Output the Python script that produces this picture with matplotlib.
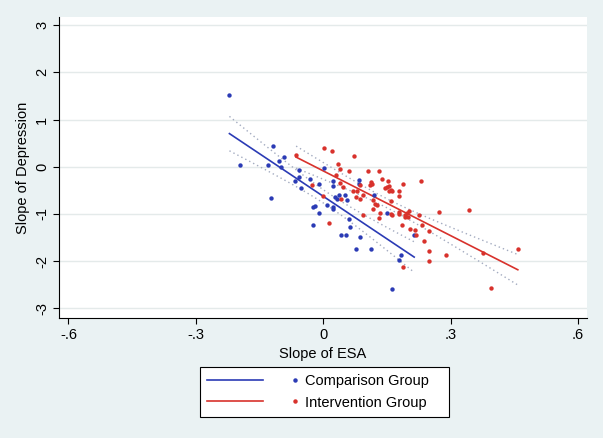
import numpy as np
import matplotlib
matplotlib.use('Agg')
import matplotlib.pyplot as plt
from matplotlib.legend_handler import HandlerTuple
from matplotlib.lines import Line2D

plt.rcParams['font.family'] = ['Liberation Sans', 'DejaVu Sans']
plt.rcParams['axes.unicode_minus'] = False

# comparison group (slope of ESA, slope of depression)
comp_x = [-0.221, -0.196, -0.118, -0.124, -0.105, -0.093, -0.130, -0.099, -0.058, -0.067,
          -0.058, -0.052, -0.031, -0.009, 0.002, -0.024, -0.019, -0.009, -0.025, 0.009,
          0.022, 0.024, 0.022, 0.024, 0.027, 0.032, 0.036, 0.052, 0.055, 0.060,
          0.063, 0.041, 0.053, 0.086, 0.077, 0.113, 0.083, 0.085, 0.119, 0.149,
          0.214, 0.182, 0.178, 0.162]
comp_y = [1.525, 0.030, 0.445, -0.657, 0.127, 0.199, 0.030, -0.013, -0.070, -0.297,
          -0.212, -0.451, -0.267, -0.367, -0.028, -0.860, -0.833, -0.987, -1.235, -0.818,
          -0.903, -0.860, -0.309, -0.409, -0.636, -0.678, -0.593, -0.593, -0.706, -1.114,
          -1.284, -1.441, -1.441, -1.496, -1.750, -1.750, -0.282, -0.367, -0.606, -0.987,
          -1.453, -1.864, -1.977, -2.597]

# intervention group
int_x = [-0.064, 0.002, 0.020, 0.072, 0.035, 0.039, 0.030, 0.060, 0.105, 0.130,
         0.138, 0.152, 0.188, 0.229, 0.112, 0.115, 0.110, 0.146, 0.151, 0.155,
         0.159, 0.154, 0.162, 0.179, 0.178, 0.160, 0.039, 0.047, -0.027, 0.000,
         0.042, 0.071, 0.080, 0.086, 0.077, 0.086, 0.093, 0.116, 0.122, 0.126,
         0.116, 0.134, 0.132, 0.094, 0.159, 0.162, 0.178, 0.179, 0.193, 0.196,
         0.201, 0.199, 0.192, 0.226, 0.273, 0.342, 0.185, 0.204, 0.215, 0.232,
         0.248, 0.237, 0.248, 0.250, 0.289, 0.187, 0.014, 0.377, 0.458, 0.394,
         0.218]
int_y = [0.254, 0.396, 0.326, 0.237, 0.051, -0.055, -0.169, -0.085, -0.085, -0.091,
         -0.267, -0.309, -0.377, -0.297, -0.324, -0.367, -0.388, -0.451, -0.424, -0.409,
         -0.494, -0.521, -0.508, -0.508, -0.621, -0.720, -0.339, -0.424, -0.381, -0.621,
         -0.678, -0.508, -0.508, -0.394, -0.636, -0.691, -0.606, -0.706, -0.790, -0.805,
         -0.890, -0.975, -1.087, -1.030, -1.002, -1.030, -0.960, -1.002, -1.017, -0.975,
         -0.945, -1.059, -1.059, -1.030, -0.960, -0.917, -1.229, -1.314, -1.341, -1.229,
         -1.369, -1.568, -1.792, -2.004, -1.877, -2.131, -1.199, -1.822, -1.750, -2.570,
         -1.441]

x_ticks = [-0.6, -0.3, 0, 0.3, 0.6]
x_ticklabels = ['-.6', '-.3', '0', '.3', '.6']
y_ticks = [-3, -2, -1, 0, 1, 2, 3]
y_ticklabels = ['-3', '-2', '-1', '0', '1', '2', '3']

blue = '#2b3bb5'
red = '#d8322c'
ci_col = '#a3abc0'
bg = '#eaf2f3'


def t_crit(df, z=1.959964):
    # Cornish-Fisher approximation of the 97.5% t quantile
    return z + (z**3 + z) / (4 * df) + (5 * z**5 + 16 * z**3 + 3 * z) / (96 * df**2)


def fit_ci(x, y):
    x = np.asarray(x)
    y = np.asarray(y)
    n = len(x)
    b, a = np.polyfit(x, y, 1)
    resid = y - (a + b * x)
    s = np.sqrt(np.sum(resid**2) / (n - 2))
    sxx = np.sum((x - x.mean())**2)
    xs = np.linspace(x.min(), x.max(), 100)
    yh = a + b * xs
    se = s * np.sqrt(1.0 / n + (xs - x.mean())**2 / sxx)
    t = t_crit(n - 2)
    return xs, yh, yh - t * se, yh + t * se


fig = plt.figure(figsize=(6.03, 4.38), dpi=100, facecolor=bg)
ax = fig.add_axes([59 / 603, 1 - 318 / 438, 528 / 603, 301 / 438])
ax.set_facecolor('white')

for xv, yv, col in [(comp_x, comp_y, blue), (int_x, int_y, red)]:
    xs, yh, lo, hi = fit_ci(xv, yv)
    ax.plot(xs, lo, color=ci_col, lw=1.0, ls=(0, (1, 2.2)), zorder=2)
    ax.plot(xs, hi, color=ci_col, lw=1.0, ls=(0, (1, 2.2)), zorder=2)

xs, yh, lo, hi = fit_ci(comp_x, comp_y)
lb, = ax.plot(xs, yh, color=blue, lw=1.2, zorder=3)
xs, yh, lo, hi = fit_ci(int_x, int_y)
lr, = ax.plot(xs, yh, color=red, lw=1.2, zorder=3)

ax.scatter(comp_x, comp_y, s=10, color=blue, lw=0, zorder=4)
ax.scatter(int_x, int_y, s=10, color=red, lw=0, zorder=4)

ax.set_xlim(-0.6223, 0.6209)
ax.set_ylim(-3.206, 3.172)
ax.set_xticks(x_ticks)
ax.set_xticklabels(x_ticklabels)
ax.set_yticks(y_ticks)
ax.set_yticklabels(y_ticklabels, rotation=90, va='center')
ax.tick_params(labelsize=10.5, length=4, width=0.8, color='black', pad=3)
ax.grid(axis='y', color='#e4eaea', lw=1.0, zorder=0)
ax.set_axisbelow(True)
for sp in ['top', 'right']:
    ax.spines[sp].set_visible(False)
for sp in ['left', 'bottom']:
    ax.spines[sp].set_linewidth(0.8)
    ax.spines[sp].set_color('black')

ax.set_xlabel('Slope of ESA', fontsize=10.5, labelpad=4)
ax.set_ylabel('Slope of Depression', fontsize=10.5, labelpad=4)

db = Line2D([], [], color=blue, marker='o', ms=2.2, ls='none')
dr = Line2D([], [], color=red, marker='o', ms=2.2, ls='none')
fs_px = 10.5 * 100 / 72
leg = fig.legend([(lb, db), (lr, dr)], ['Comparison Group', 'Intervention Group'],
                 handler_map={tuple: HandlerTuple(ndivide=None, pad=4 / fs_px)},
                 loc='upper left', mode='expand',
                 bbox_to_anchor=(200 / 603, 1 - 416 / 438, 249 / 603, 49 / 438),
                 borderaxespad=0, fontsize=10.5, handlelength=116 / fs_px,
                 handletextpad=-18 / fs_px, borderpad=0.5, labelspacing=0.5,
                 fancybox=False, framealpha=1, edgecolor='black', facecolor='white')
leg.get_frame().set_linewidth(0.8)

fig.savefig('out.png', dpi=100, facecolor=bg)
